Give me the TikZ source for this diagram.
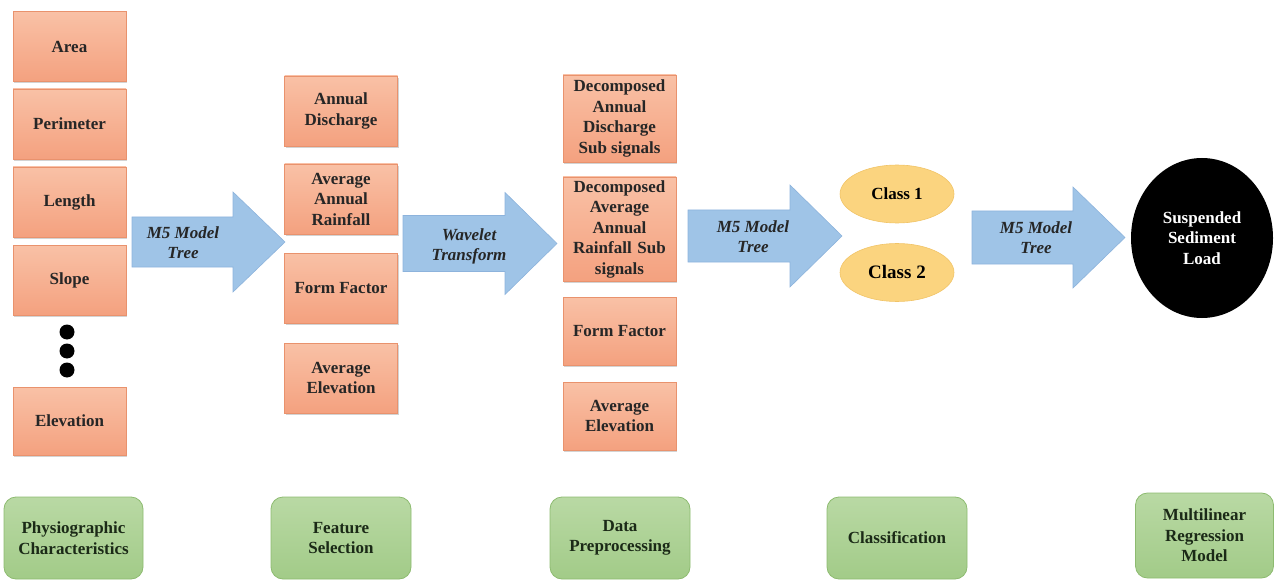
\documentclass[tikz,border=0pt]{standalone}
\usepackage{fontspec}
\setmainfont{Liberation Serif}
\usetikzlibrary{shadows,shapes.geometric}

\definecolor{boxtop}{HTML}{F9C1A6}
\definecolor{boxbot}{HTML}{F4A17F}
\definecolor{boxline}{HTML}{E9926D}
\definecolor{greentop}{HTML}{B9D9A4}
\definecolor{greenbot}{HTML}{A2CB88}
\definecolor{greenline}{HTML}{8DBB70}
\definecolor{arrowfill}{HTML}{9FC4E7}
\definecolor{arrowline}{HTML}{8DB3DC}
\definecolor{classfill}{HTML}{FBD47F}
\definecolor{classline}{HTML}{F1C468}
\definecolor{greentext}{HTML}{1B2A17}

\tikzset{
  labeltext/.style={font=\fontsize{17}{20.5}\selectfont\bfseries, align=center},
  obox/.style={labeltext, rectangle, draw=boxline, line width=0.8pt,
    top color=boxtop, bottom color=boxbot, minimum width=113pt,
    inner sep=2pt, text=black!85,
    drop shadow={shadow xshift=1.2pt, shadow yshift=-1.8pt, opacity=0.35}},
  gbox/.style={labeltext, rectangle, rounded corners=12pt, draw=greenline,
    line width=0.8pt, top color=greentop, bottom color=greenbot,
    minimum height=82pt, text=greentext},
  classnode/.style={labeltext, ellipse, fill=classfill, draw=classline,
    line width=0.6pt, minimum width=114pt, minimum height=58pt, inner sep=0pt},
  arrowbody/.style={fill=arrowfill, draw=arrowline, line width=0.6pt},
  arrowtext/.style={font=\fontsize{17}{20}\selectfont\bfseries\itshape,
    align=center, text=black!85},
  dotnode/.style={circle, fill=black, inner sep=0pt, minimum size=15pt}
}

% block arrow: left x, head x, tip x, centre y, body half, head half
\newcommand{\blockarrow}[6]{%
  \filldraw[arrowbody] (#1,{#4-#5}) -- (#2,{#4-#5}) -- (#2,{#4-#6}) -- (#3,#4)
    -- (#2,{#4+#6}) -- (#2,{#4+#5}) -- (#1,{#4+#5}) -- cycle;}

\begin{document}
\begin{tikzpicture}[x=1pt, y=-1pt]
\useasboundingbox (0,0) rectangle (1274,580);

% physiographic characteristics
\node[obox, minimum height=70pt] (area) at (69.5,46.5) {Area};
\node[obox, minimum height=70pt] (perim) at (69.5,124) {Perimeter};
\node[obox, minimum height=70pt] (length) at (69.5,202) {Length};
\node[obox, minimum height=70pt] (slope) at (69.5,280) {Slope};
\foreach \y/\n in {332/a, 351/b, 370/c}
  \node[dotnode] (dot\n) at (67,\y) {};
\node[obox, minimum height=68pt] (elev) at (69.5,421) {Elevation};

% selected features
\node[obox, minimum height=70pt] (disch) at (341,111) {Annual\\Discharge};
\node[obox, minimum height=70pt] (rain) at (341,199) {Average\\Annual\\Rainfall};
\node[obox, minimum height=70pt] (form) at (341,288) {Form Factor};
\node[obox, minimum height=70pt] (avgelev) at (341,378) {Average\\Elevation};

% preprocessed data
\node[obox, minimum height=87pt] (decdisch) at (619.5,118.5) {Decomposed\\Annual\\Discharge\\Sub signals};
\node[obox, minimum height=104pt, text width=109pt] (decrain) at (619.5,229) {Decomposed\\Average\\Annual\\Rainfall Sub\\signals};
\node[obox, minimum height=68pt] (decform) at (619.5,331) {Form Factor};
\node[obox, minimum height=68pt] (decelev) at (619.5,416) {Average\\Elevation};

% classes and output
\node[classnode] (class1) at (897,194) {Class 1};
\node[classnode, font=\fontsize{19}{22}\selectfont\bfseries] (class2) at (897,272.5) {Class 2};
\node[labeltext, ellipse, fill=black, text=white, minimum width=142pt,
  minimum height=160pt, inner sep=0pt] (ssl) at (1202,238) {Suspended\\Sediment\\Load};

% block arrows
\blockarrow{132}{233}{285}{242}{25}{50}
\node[arrowtext] (arrA) at (183,243) {M5 Model\\Tree};
\blockarrow{403}{505}{557}{243.5}{28}{51}
\node[arrowtext] (arrB) at (469,246) {Wavelet\\Transform};
\blockarrow{688}{790}{842}{236}{26}{51}
\node[arrowtext] (arrC) at (753,237) {M5 Model\\Tree};
\blockarrow{972}{1073}{1125}{237.5}{26.5}{50.5}
\node[arrowtext] (arrD) at (1036,238) {M5 Model\\Tree};

% stages
\node[gbox, minimum width=139pt] (stage1) at (73.5,538) {Physiographic\\Characteristics};
\node[gbox, minimum width=140pt] (stage2) at (341,538) {Feature\\Selection};
\node[gbox, minimum width=140pt] (stage3) at (620,538) {Data\\Preprocessing};
\node[gbox, minimum width=140pt] (stage4) at (897,538) {Classification};
\node[gbox, minimum width=138pt, minimum height=85pt] (stage5) at (1204.5,535.5) {Multilinear\\Regression\\Model};
\end{tikzpicture}
\end{document}
